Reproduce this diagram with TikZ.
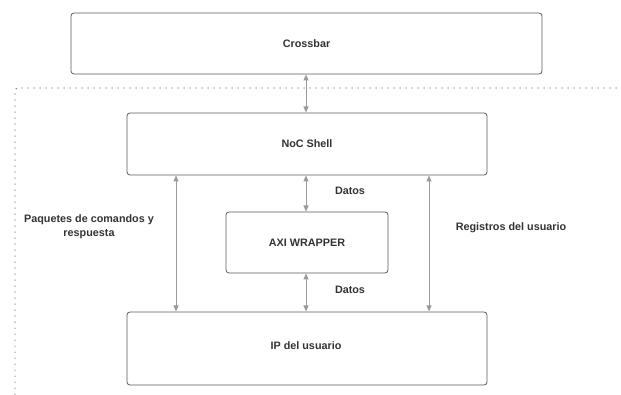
\documentclass[tikz,border=0pt]{standalone}
\usepackage{fontspec}
\setmainfont{Liberation Sans}
\usetikzlibrary{arrows.meta}
\definecolor{boxline}{HTML}{5A5A5A}
\definecolor{arrowc}{HTML}{9A9A9A}
\definecolor{txt}{HTML}{333333}
\begin{document}
\begin{tikzpicture}[x=1pt,y=-1pt,
  blk/.style={draw=boxline,line width=0.8pt,rounded corners=3pt,fill=white},
  lbl/.style={text=txt,font=\bfseries\fontsize{10.8}{13}\selectfont,inner sep=0pt},
  conn/.style={draw=arrowc,line width=1pt,{Triangle[length=6pt,width=5pt]}-{Triangle[length=6pt,width=5pt]}}]
\useasboundingbox (0,0) rectangle (621,395);
\draw[arrowc!80!black,line width=0.8pt,dash pattern=on 1.5pt off 4.5pt] (15,395) -- (15,91) arc[start angle=180,end angle=270,radius=3] -- (621,88);
\draw[blk] (71,13) rectangle (542,74) coordinate[pos=0.5] (cb);
\node[lbl] (cbt) at (cb) {Crossbar};
\draw[blk] (127,113) rectangle (487,175) coordinate[pos=0.5] (noc);
\node[lbl] (noct) at (noc) {NoC Shell};
\draw[blk] (226,212) rectangle (388,273) coordinate[pos=0.5] (axi);
\node[lbl] (axit) at (axi) {AXI WRAPPER};
\draw[blk] (127,312) rectangle (487,385) coordinate[pos=0.5] (ip);
\node[lbl] (ipt) at (306,346) {IP del usuario};
\coordinate (cbB) at (306,74.5);
\coordinate (nocT) at (306,112.5);
\coordinate (nocBL) at (176,175.5);
\coordinate (nocBM) at (306,175.5);
\coordinate (nocBR) at (429,175.5);
\coordinate (axiT) at (306,211.5);
\coordinate (axiB) at (306,273.5);
\coordinate (ipTL) at (176,311.5);
\coordinate (ipTM) at (306,311.5);
\coordinate (ipTR) at (429,311.5);
\draw[conn] (cbB) -- (nocT);
\draw[conn] (nocBL) -- (ipTL);
\draw[conn] (nocBM) -- (axiT);
\draw[conn] (axiB) -- (ipTM);
\draw[conn] (nocBR) -- (ipTR);
\node[lbl] (d1) at (350,191) {Datos};
\node[lbl] (d2) at (350,290) {Datos};
\node[lbl,align=center] (paq) at (89,227) {Paquetes de comandos y\\[1pt]respuesta};
\node[lbl] (reg) at (511,228) {Registros del usuario};
\end{tikzpicture}
\end{document}
